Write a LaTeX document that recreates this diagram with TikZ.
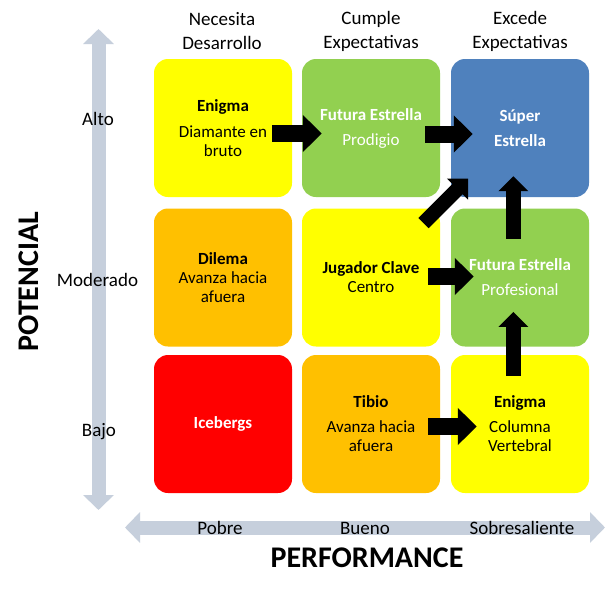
\documentclass[tikz,border=0pt]{standalone}
\usepackage{fontspec}
\setmainfont{Carlito}
\usetikzlibrary{arrows.meta,calc}
\definecolor{cyel}{RGB}{255,255,0}
\definecolor{cgrn}{RGB}{146,208,80}
\definecolor{cblu}{RGB}{79,129,189}
\definecolor{corg}{RGB}{255,192,0}
\definecolor{cred}{RGB}{255,0,0}
\definecolor{caxis}{RGB}{198,207,220}
\begin{document}
\begin{tikzpicture}[x=1pt,y=-1pt,
 box/.style={rounded corners=14pt, minimum width=138pt, minimum height=138pt, inner sep=0pt, align=center, font=\fontsize{17}{19}\selectfont},
 bigarrow/.style={line width=17pt, -{Triangle[width=36pt,length=19pt]}},
 smallarrow/.style={line width=14.5pt, -{Triangle[width=29pt,length=15pt]}},
 axisarrow/.style={line width=14pt, caxis, {Triangle[width=30pt,length=15pt]}-{Triangle[width=30pt,length=15pt]}},
 lab/.style={font=\fontsize{19}{24}\selectfont, align=center, inner sep=0pt},
 bigtitle/.style={font=\fontsize{30}{36}\selectfont\bfseries, inner sep=0pt}]
\fill[white] (0,0) rectangle (606,595);
\useasboundingbox (0,0) rectangle (606,595);

% axes
\coordinate (vtop) at (98.5,29);
\coordinate (vbot) at (98.5,510);
\coordinate (hl) at (125,527.5);
\coordinate (hr) at (605,527.5);
\draw[axisarrow] (vbot) -- (vtop);
\draw[axisarrow] (hl) -- (hr);

% headers
\node[lab] (h1) at (222,31) {Necesita\\Desarrollo};
\node[lab] (h2) at (371,31) {Cumple\\Expectativas};
\node[lab] (h3) at (520,31) {Excede\\Expectativas};

% axis labels
\node[lab] (alto) at (98,119) {Alto};
\node[lab] (mod) at (97.5,280) {Moderado};
\node[lab] (bajo) at (99,432) {Bajo};
\node[lab] (pobre) at (220,528) {Pobre};
\node[lab] (bueno) at (365,528) {Bueno};
\node[lab] (sobre) at (522,528) {Sobresaliente};
\node[bigtitle] (perf) at (367,558) {PERFORMANCE};
\node[bigtitle, rotate=90] (pot) at (28.3,281.7) {POTENCIAL};

% boxes
\node[box, fill=cyel] (n11) at (223,128) {\textbf{Enigma}\\[7pt]Diamante en\\bruto};
\node[box, fill=cgrn, text=white] (n12) at (371,128) {\textbf{Futura Estrella}\\[6pt]Prodigio};
\node[box, fill=cblu, text=white] (n13) at (520,128) {\textbf{Súper}\\[6pt]\textbf{Estrella}};
\node[box, fill=corg] (n21) at (223,277.5) {\textbf{Dilema}\\Avanza hacia\\afuera};
\node[box, fill=cyel] (n22) at (371,277.5) {\textbf{Jugador Clave}\\Centro};
\node[box, fill=cgrn, text=white] (n23) at (520,277.5) {\textbf{Futura Estrella}\\[6pt]Profesional};
\node[box, fill=cred, text=white] (n31) at (223,424) {\textbf{Icebergs}};
\node[box, fill=corg] (n32) at (371,424) {\textbf{Tibio}\\[6pt]Avanza hacia\\afuera};
\node[box, fill=cyel] (n33) at (520,424) {\textbf{Enigma}\\[6pt]Columna\\Vertebral};

% transition arrows
\draw[bigarrow] ($(n11.east)+(-20,5.5)$) -- ($(n12.west)+(20,5.5)$);
\draw[bigarrow] ($(n12.east)+(-15,6)$) -- ($(n13.west)+(22,6)$);
\draw[smallarrow] ($(n22.north east)+(-16.7,14.8)$) -- ($(n13.south west)+(17.3,-18.7)$);
\draw[bigarrow] ($(n22.east)+(-12,-1)$) -- ($(n23.west)+(23,-1)$);
\draw[smallarrow] ($(n23.north)+(-6.7,30.5)$) -- ($(n13.south)+(-6.7,-21)$);
\draw[smallarrow] ($(n33.north)+(-6.7,21)$) -- ($(n23.south)+(-6.7,-34.8)$);
\draw[bigarrow] ($(n32.east)+(-12,2.5)$) -- ($(n33.west)+(26,2.5)$);
\end{tikzpicture}
\end{document}
